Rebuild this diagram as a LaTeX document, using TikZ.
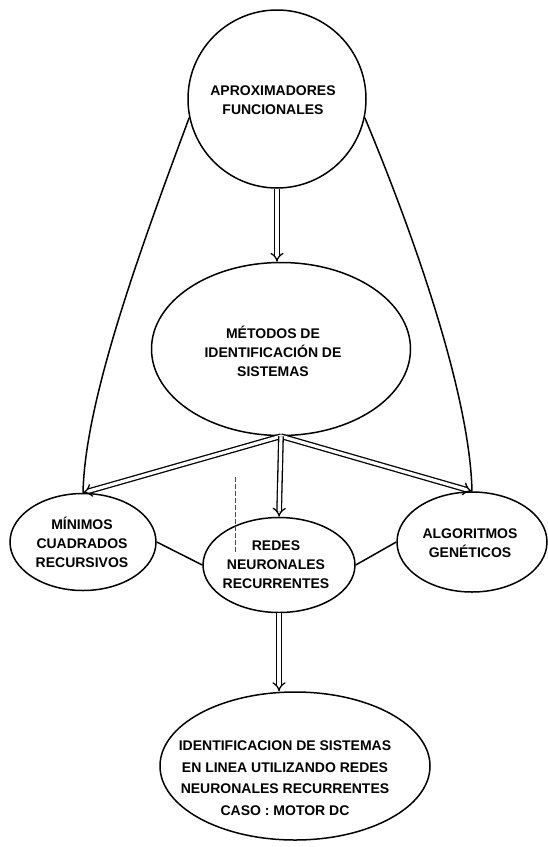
\documentclass[tikz,border=0pt]{standalone}
\usepackage{fontspec}
\setmainfont{Liberation Sans}
\usetikzlibrary{shapes.geometric,arrows.meta}

\begin{document}
\begin{tikzpicture}[x=1pt,y=-1pt,
  ink/.style={line width=1.5pt, draw=black},
  bubble/.style={ink, inner sep=0pt},
  lbl/.style={font=\bfseries\fontsize{14}{19}\selectfont, align=center, inner sep=0pt},
  lblwide/.style={lbl, font=\bfseries\fontsize{14}{21.5}\selectfont},
  feed/.style={line width=1.3pt, double, double distance=3.2pt, -{Implies[length=4pt]}},
  link/.style={ink},
]
\useasboundingbox (0,0) rectangle (548,847);

% bubbles
\node[bubble, circle, minimum size=178pt,
      label={[lbl, xshift=-4pt, yshift=-1pt]center:APROXIMADORES\\FUNCIONALES}]
      (aprox) at (277,99) {};
\node[bubble, ellipse, minimum width=259pt, minimum height=173pt,
      label={[lbl, xshift=-8pt, yshift=-2pt]center:MÉTODOS DE\\IDENTIFICACIÓN DE\\SISTEMAS}]
      (met) at (281,349) {};
\node[bubble, ellipse, minimum width=146pt, minimum height=97pt,
      label={[lbl, xshift=-1pt]center:MÍNIMOS\\CUADRADOS\\RECURSIVOS}]
      (mini) at (83,542) {};
\node[bubble, ellipse, minimum width=152pt, minimum height=95pt,
      label={[lbl, xshift=-3pt]center:REDES\\NEURONALES\\RECURRENTES}]
      (redes) at (279,565) {};
\node[bubble, ellipse, minimum width=150pt, minimum height=100pt,
      label={[lbl, xshift=-2pt, yshift=-1pt]center:ALGORITMOS\\GENÉTICOS}]
      (alg) at (472,542) {};
\node[bubble, ellipse, minimum width=270pt, minimum height=148pt,
      label={[lblwide, xshift=-10pt, yshift=-12pt]center:IDENTIFICACION DE SISTEMAS\\EN LINEA UTILIZANDO REDES\\NEURONALES RECURRENTES\\CASO : MOTOR DC}]
      (fin) at (295,766) {};

% outer links from the top bubble
\draw[link] (aprox.192) .. controls (140,250) and (85,400) .. (mini.north);
\draw[link] (aprox.-12) .. controls (420,250) and (470,400) .. (alg.north);

% double arrows
\draw[feed] (aprox.south) -- (aprox.south |- met.north);
\draw[feed] (met.south) -- (mini.north);
\draw[feed] (met.south) -- (alg.north);
\draw[feed] (met.south) -- (redes.north);
\draw[feed] (redes.south) -- (redes.south |- fin.north);

% side links between the three methods
\draw[link] (mini.east) -- (redes.west);
\draw[link] (redes.east) -- (alg.west);

% faint dashed mark
\draw[line width=0.5pt, dash pattern=on 5pt off 2pt, black!70] (235,477) -- (235,553);
\end{tikzpicture}
\end{document}
